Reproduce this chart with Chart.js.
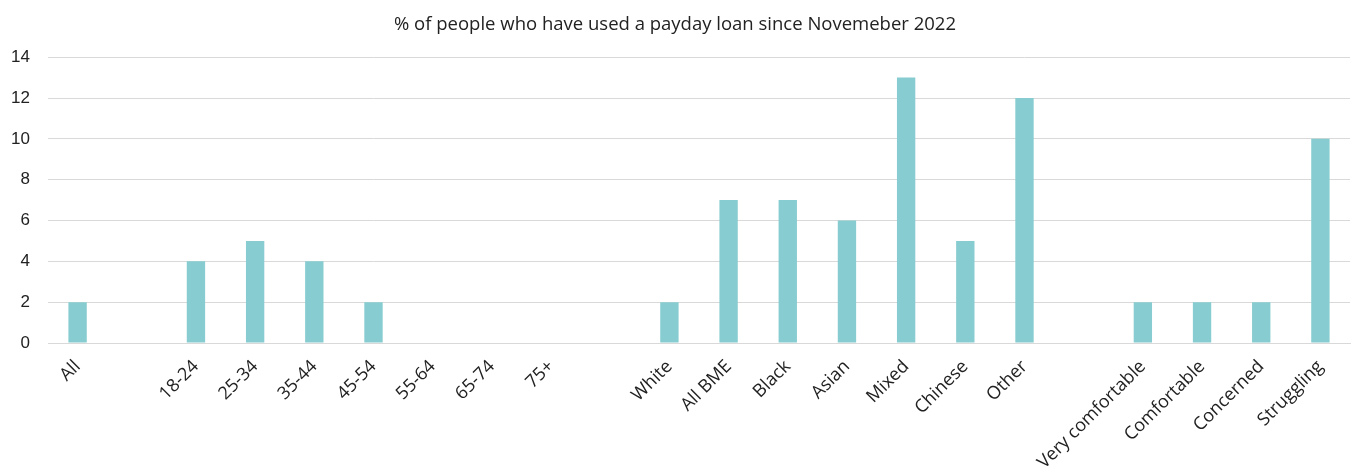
<!DOCTYPE html>
<html>
<head>
<meta charset="utf-8">
<script src="https://cdn.jsdelivr.net/npm/chart.js@4"></script>
<style>
  html, body { margin: 0; padding: 0; background: #fff; }
  #wrap { width: 1354px; height: 475px; }
</style>
</head>
<body>
<div id="wrap"><canvas id="loanChart" width="1354" height="475"></canvas></div>
<script>
// categories ('' = spacer slot between groups)
const categories = ['All', '', '18-24', '25-34', '35-44', '45-54', '55-64', '65-74', '75+', '',
    'White', 'All BME', 'Black', 'Asian', 'Mixed', 'Chinese', 'Other', '',
    'Very comfortable', 'Comfortable', 'Concerned', 'Struggling'];
const usedPaydayLoan = [2, null, 4, 5, 4, 2, 0, 0, 0, null,
    2, 7, 7, 6, 13, 5, 12, null,
    2, 2, 2, 10];
const yTicks = [0, 2, 4, 6, 8, 10, 12, 14];
const chartTitle = '% of people who have used a payday loan since Novemeber 2022';

document.addEventListener('DOMContentLoaded', function () {
    const ctx = document.getElementById('loanChart').getContext('2d');
    Chart.defaults.font.family = '"Open Sans", Lato, sans-serif';
    Chart.defaults.color = '#222';

    new Chart(ctx, {
        type: 'bar',
        data: {
            labels: categories,
            datasets: [{
                label: 'Used payday loan',
                data: usedPaydayLoan,
                backgroundColor: '#86ccd0',
                borderWidth: 0,
                barPercentage: 0.31,
                categoryPercentage: 1
            }]
        },
        options: {
            responsive: false,
            animation: false,
            layout: { padding: { left: 0, right: 4, bottom: 0 } },
            plugins: {
                legend: { display: false },
                tooltip: { enabled: false },
                title: {
                    display: true,
                    text: chartTitle,
                    color: '#222',
                    font: { size: 18.5, weight: 'normal' },
                    padding: { top: 14, bottom: 21 }
                }
            },
            scales: {
                x: {
                    grid: { display: false },
                    border: { display: true, color: '#d9d9d9', width: 1 },
                    ticks: {
                        autoSkip: false,
                        minRotation: 45,
                        maxRotation: 45,
                        padding: 5,
                        font: { size: 18 },
                        color: '#222'
                    },
                    afterFit: function (scale) { scale.height = 132; }
                },
                y: {
                    min: 0,
                    max: 14,
                    afterBuildTicks: function (scale) {
                        scale.ticks = yTicks.map(v => ({ value: v }));
                    },
                    grid: { color: '#d9d9d9', lineWidth: 1, drawTicks: false },
                    border: { display: false },
                    ticks: {
                        padding: 18,
                        font: { size: 17, family: '"Liberation Sans", Arial, sans-serif' },
                        color: '#222'
                    },
                    afterFit: function (scale) { scale.width = 48; }
                }
            }
        }
    });
});
</script>
</body>
</html>
